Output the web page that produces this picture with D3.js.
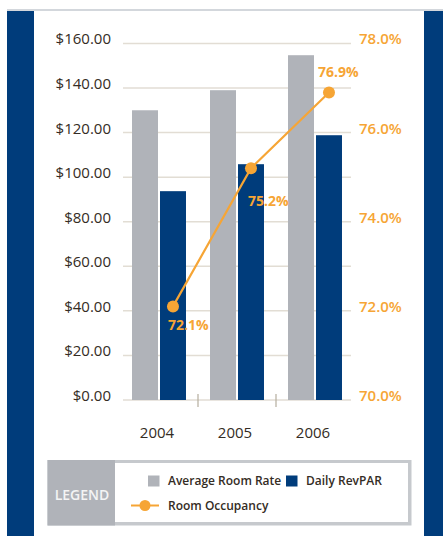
<!DOCTYPE html>
<html>
<head>
<meta charset="utf-8">
<script src="https://cdn.jsdelivr.net/npm/d3@7"></script>
<style>
  html, body { margin: 0; padding: 0; background: #fff; }
  svg { display: block; font-family: "Open Sans", sans-serif; }
</style>
</head>
<body>
<div id="chart-area"></div>
<script>
// data
const years = ["2004", "2005", "2006"]
const avgRoomRate = [130.0, 139.0, 154.7]
const dailyRevPAR = [93.7, 105.8, 118.8]
const occupancy = [72.1, 75.2, 76.9]
const rateTicks = [0, 20, 40, 60, 80, 100, 120, 140, 160]
const occTicks = [70, 72, 74, 76, 78]

const W = 443, H = 536
const BLUE = "#003c7b", GRAY = "#b0b3b9", ORANGE = "#f6a535", TEXT = "#342c24"

const svg = d3.select("#chart-area").append("svg")
  .attr("width", W)
  .attr("height", H)
  .attr("viewBox", [0, 0, W, H])

// frame
svg.append("rect").attr("x", 7).attr("y", 9).attr("width", W - 7).attr("height", 2).attr("fill", "#d3d7dc")
svg.append("rect").attr("x", 7).attr("y", 11).attr("width", 27).attr("height", H - 11).attr("fill", BLUE)
svg.append("rect").attr("x", 424).attr("y", 11).attr("width", W - 424).attr("height", H - 11).attr("fill", BLUE)

// scales
const y = d3.scaleLinear().domain([0, 160]).range([400, 43.4])
const y2 = d3.scaleLinear().domain([70, 78]).range([400, 43.4])
const x0 = d3.scaleBand().domain(years).range([120, 354]).paddingInner(0.308).paddingOuter(0.154)
const x1 = d3.scaleBand().domain(["rate", "revpar"]).range([0, x0.bandwidth()]).paddingInner(0.0714)

// gridlines
svg.append("g").selectAll("line")
  .data(rateTicks)
  .join("line")
  .attr("x1", 123).attr("x2", 351)
  .attr("y1", d => y(d)).attr("y2", d => y(d))
  .attr("stroke", "#e2ddd4")
  .attr("stroke-width", 1.5)

// left axis labels
svg.append("g").selectAll("text")
  .data(rateTicks)
  .join("text")
  .attr("x", 111)
  .attr("y", d => y(d) + 1)
  .attr("text-anchor", "end")
  .attr("fill", TEXT)
  .style("font-size", "15px")
  .text(d => "$" + d3.format(".2f")(d))

// right axis labels
svg.append("g").selectAll("text")
  .data(occTicks)
  .join("text")
  .attr("x", 359)
  .attr("y", d => y2(d) + 1)
  .attr("fill", ORANGE)
  .style("font-size", "15px")
  .style("font-weight", 600)
  .text(d => d3.format(".1f")(d) + "%")

// bars
const rows = years.map((yr, i) => ({ year: yr, rate: avgRoomRate[i], revpar: dailyRevPAR[i], occ: occupancy[i] }))
const groups = svg.append("g").selectAll("g")
  .data(rows)
  .join("g")
  .attr("transform", d => `translate(${x0(d.year)},0)`)
groups.append("rect")
  .attr("x", x1("rate"))
  .attr("y", d => y(d.rate))
  .attr("width", x1.bandwidth())
  .attr("height", d => y(0) - y(d.rate))
  .attr("fill", GRAY)
groups.append("rect")
  .attr("x", x1("revpar"))
  .attr("y", d => y(d.revpar))
  .attr("width", x1.bandwidth())
  .attr("height", d => y(0) - y(d.revpar))
  .attr("fill", BLUE)

// ticks between groups
svg.append("g").selectAll("line")
  .data(years.slice(1))
  .join("line")
  .attr("x1", d => x0(d) - x0.step() * x0.paddingInner() / 2)
  .attr("x2", d => x0(d) - x0.step() * x0.paddingInner() / 2)
  .attr("y1", 394).attr("y2", 407)
  .attr("stroke", "#b5ad9e")
  .attr("stroke-width", 1.2)

// year labels
svg.append("g").selectAll("text")
  .data(years)
  .join("text")
  .attr("x", d => x0(d) + x0.bandwidth() / 2 - 2)
  .attr("y", 438)
  .attr("text-anchor", "middle")
  .attr("fill", TEXT)
  .style("font-size", "15px")
  .text(d => d)

// occupancy line
const px = d => x0(d.year) + x1("revpar") + x1.bandwidth() / 2
const line = d3.line().x(px).y(d => y2(d.occ))
svg.append("path")
  .datum(rows)
  .attr("d", line)
  .attr("fill", "none")
  .attr("stroke", ORANGE)
  .attr("stroke-width", 2.2)
svg.append("g").selectAll("circle")
  .data(rows)
  .join("circle")
  .attr("cx", px)
  .attr("cy", d => y2(d.occ))
  .attr("r", 6)
  .attr("fill", ORANGE)

const labelOffsets = [[-5, 24], [-3, 38], [-11, -15]]
svg.append("g").selectAll("text")
  .data(rows)
  .join("text")
  .attr("x", (d, i) => px(d) + labelOffsets[i][0])
  .attr("y", (d, i) => y2(d.occ) + labelOffsets[i][1])
  .attr("fill", ORANGE)
  .style("font-size", "14px")
  .style("font-weight", "bold")
  .text(d => d3.format(".1f")(d.occ) + "%")

// legend
const legend = svg.append("g")
legend.append("rect").attr("x", 47.5).attr("y", 460).attr("width", 364).attr("height", 65.5).attr("fill", "#c6c9cd")
legend.append("rect").attr("x", 47.5).attr("y", 460).attr("width", 67.5).attr("height", 65.5).attr("fill", GRAY)
legend.append("rect").attr("x", 115).attr("y", 463).attr("width", 293).attr("height", 59).attr("fill", "#fff")
legend.append("text")
  .attr("x", 82).attr("y", 500)
  .attr("text-anchor", "middle")
  .attr("fill", "#f4f4f4")
  .style("font-size", "14px")
  .style("font-weight", 600)
  .text("LEGEND")

const legendItems = [
  { label: "Average Room Rate", color: GRAY, x: 148 },
  { label: "Daily RevPAR", color: BLUE, x: 286 }
]
legendItems.forEach(it => {
  legend.append("rect").attr("x", it.x).attr("y", 475.5).attr("width", 11.5).attr("height", 11).attr("fill", it.color)
  legend.append("text")
    .attr("x", it.x + 20).attr("y", 485)
    .attr("fill", TEXT)
    .style("font-size", "12px")
    .style("font-weight", 600)
    .text(it.label)
})
legend.append("line").attr("x1", 131).attr("x2", 159).attr("y1", 505.5).attr("y2", 505.5)
  .attr("stroke", ORANGE).attr("stroke-width", 2)
legend.append("circle").attr("cx", 145).attr("cy", 505.5).attr("r", 5.5).attr("fill", ORANGE)
legend.append("text")
  .attr("x", 168).attr("y", 510)
  .attr("fill", TEXT)
  .style("font-size", "12px")
  .style("font-weight", 600)
  .text("Room Occupancy")
</script>
</body>
</html>
